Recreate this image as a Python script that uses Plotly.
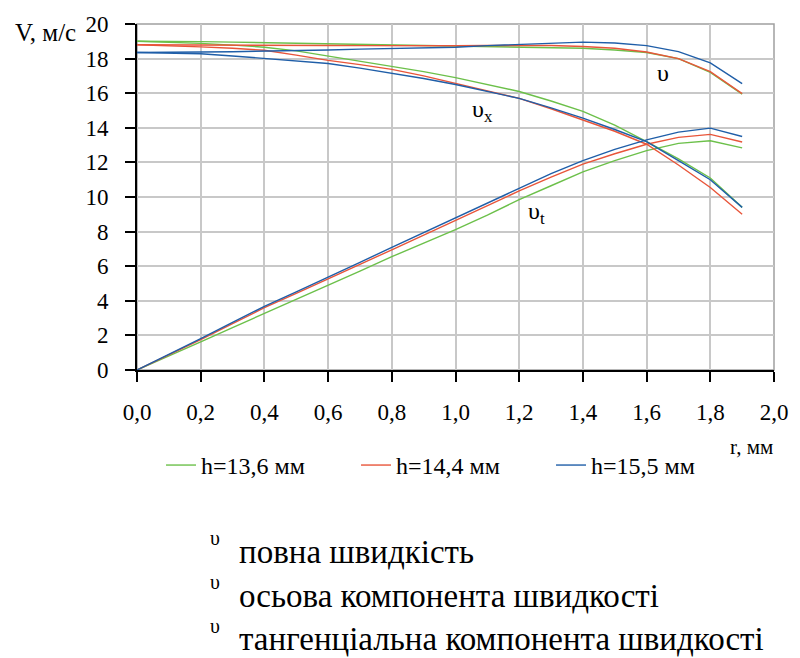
import plotly.graph_objects as go

r = [0.0, 0.1, 0.2, 0.3, 0.4, 0.5, 0.6, 0.7, 0.8, 0.9, 1.0, 1.1, 1.2, 1.3, 1.4, 1.5, 1.6, 1.7, 1.8, 1.9]

# full velocity
v_136 = [19.0, 19.0, 18.98, 18.95, 18.92, 18.9, 18.87, 18.83, 18.8, 18.78, 18.76, 18.73, 18.7, 18.65, 18.6, 18.5, 18.35, 18.0, 17.2, 15.95]
v_144 = [18.8, 18.8, 18.8, 18.8, 18.78, 18.78, 18.76, 18.75, 18.74, 18.74, 18.74, 18.76, 18.78, 18.76, 18.7, 18.6, 18.38, 18.0, 17.25, 15.98]
v_155 = [18.35, 18.35, 18.38, 18.4, 18.42, 18.45, 18.5, 18.55, 18.58, 18.62, 18.66, 18.75, 18.82, 18.9, 18.95, 18.9, 18.75, 18.4, 17.75, 16.55]
# axial component
vx_136 = [19.0, 18.95, 18.88, 18.78, 18.66, 18.45, 18.15, 17.85, 17.55, 17.25, 16.9, 16.5, 16.1, 15.55, 14.95, 14.15, 13.2, 12.2, 11.1, 9.4]
vx_144 = [18.8, 18.75, 18.68, 18.6, 18.48, 18.2, 17.9, 17.65, 17.38, 17.0, 16.57, 16.15, 15.7, 15.1, 14.47, 13.8, 13.05, 11.85, 10.55, 9.0]
vx_155 = [18.35, 18.32, 18.28, 18.15, 18.0, 17.85, 17.72, 17.45, 17.15, 16.85, 16.5, 16.1, 15.7, 15.15, 14.56, 13.9, 13.2, 12.1, 11.0, 9.4]
# tangential component
vt_136 = [0, 0.8, 1.63, 2.45, 3.26, 4.08, 4.89, 5.72, 6.55, 7.33, 8.12, 8.95, 9.85, 10.65, 11.45, 12.1, 12.68, 13.1, 13.25, 12.84]
vt_144 = [0, 0.87, 1.75, 2.68, 3.6, 4.43, 5.25, 6.1, 6.95, 7.8, 8.65, 9.5, 10.35, 11.15, 11.9, 12.5, 13.05, 13.45, 13.62, 13.18]
vt_155 = [0, 0.9, 1.82, 2.75, 3.68, 4.52, 5.36, 6.22, 7.09, 7.95, 8.81, 9.65, 10.5, 11.35, 12.1, 12.75, 13.3, 13.75, 13.98, 13.5]

series_names = ["h=13,6 мм", "h=14,4 мм", "h=15,5 мм"]
colors = ["#6cc04a", "#e8553a", "#1f5ea8"]
groups = [
    (v_136, vx_136, vt_136),
    (v_144, vx_144, vt_144),
    (v_155, vx_155, vt_155),
]

FONT = "Liberation Serif, Times New Roman, DejaVu Serif, serif"

fig = go.Figure()
for name, col, (v, vx, vt) in zip(series_names, colors, groups):
    for i, ys in enumerate((v, vx, vt)):
        fig.add_trace(go.Scatter(
            x=r, y=ys, mode="lines", name=name, legendgroup=name,
            showlegend=(i == 0), line=dict(color=col, width=1.4),
        ))

W, H = 800, 658
L, R, T, B = 137, 17, 22, 288
pw, ph = W - L - R, H - T - B


def px(xp):
    return (xp - L) / pw


def py(yp):
    return (H - B - yp) / ph


def ann(x, y, text, size, xref="paper", yref="paper", xanchor="center"):
    return dict(x=x, y=y, xref=xref, yref=yref, text=text, showarrow=False,
                xanchor=xanchor, yanchor="middle",
                font=dict(family=FONT, size=size, color="black"))


annotations = [
    ann(1.653, 17.18, "υ", 24, "x", "y"),
    ann(1.085, 14.95, "υ<sub>x</sub>", 24, "x", "y"),
    ann(1.255, 9.1, "υ<sub>t</sub>", 24, "x", "y"),
    ann(px(44), py(31), "V, м/с", 25),
    ann(px(784), py(447), "r, мм", 21, xanchor="right"),
]
items = ["повна швидкість", "осьова компонента швидкості", "тангенціальна компонента швидкості"]
for k, txt in enumerate(items):
    yy = 539 + 44 * k
    annotations.append(ann(px(216), py(yy), "υ", 20))
    annotations.append(ann(px(238), py(yy + 14), txt, 33, xanchor="left"))

fig.update_layout(
    width=W, height=H,
    margin=dict(l=L, r=R, t=T, b=B),
    paper_bgcolor="white", plot_bgcolor="white",
    separators=", ",
    font=dict(family=FONT, size=22, color="black"),
    showlegend=True,
    legend=dict(orientation="h", x=px(458), xanchor="center", y=py(466), yanchor="middle",
                font=dict(family=FONT, size=24), entrywidth=150, entrywidthmode="pixels",
                tracegroupgap=0),
    xaxis=dict(range=[0, 2.0], dtick=0.2, tick0=0, tickformat=".1f",
               showgrid=True, gridcolor="#c8c8c8", gridwidth=1.5,
               showline=True, linecolor="black", linewidth=2,
               ticks="outside", ticklen=10, tickcolor="black", tickwidth=2, zeroline=False,
               ticklabelstandoff=10,
               tickfont=dict(family=FONT, size=23)),
    yaxis=dict(range=[0, 20], dtick=2, tick0=0,
               showgrid=True, gridcolor="#c8c8c8", gridwidth=1.5,
               showline=True, linecolor="black", linewidth=2,
               ticks="outside", ticklen=10, tickcolor="black", tickwidth=2, zeroline=False,
               ticklabelstandoff=12,
               tickfont=dict(family=FONT, size=23)),
    annotations=annotations,
    shapes=[dict(type="rect", xref="paper", yref="paper", x0=0, y0=0, x1=1, y1=1,
                 line=dict(color="#a0a0a0", width=1.5), layer="below")],
)

fig.write_html("out.html")
